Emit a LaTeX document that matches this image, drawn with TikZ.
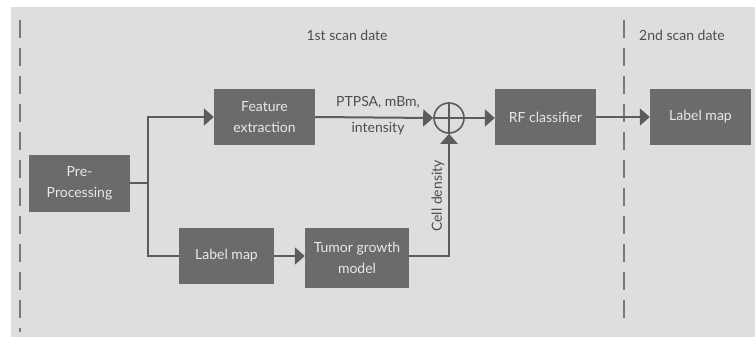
\documentclass[tikz,border=0pt]{standalone}
\usepackage{fontspec}
\setmainfont{Lato}
\usetikzlibrary{arrows.meta}
\definecolor{bggray}{HTML}{DEDEDE}
\definecolor{boxgray}{HTML}{6B6B6B}
\definecolor{boxtext}{HTML}{E8E8E8}
\definecolor{linegray}{HTML}{5C5C5C}
\definecolor{labgray}{HTML}{4E4E4E}
\definecolor{dashgray}{HTML}{7A7A7A}
\begin{document}
\begin{tikzpicture}[x=1pt, y=-1pt,
    block/.style={fill=boxgray, text=boxtext, inner sep=0pt, align=center,
        minimum width=101pt, minimum height=56pt, font=\fontsize{14}{21}\selectfont},
    lab/.style={text=labgray, inner sep=0pt, align=center, font=\fontsize{14}{21}\selectfont},
    wire/.style={draw=linegray, line width=2pt},
    conn/.style={wire, -{Triangle[length=10pt, width=17pt]}},
    sep/.style={draw=dashgray, line width=1.6pt, dash pattern=on 18pt off 10pt}]
    \useasboundingbox (0,0) rectangle (755,337) ;
    \fill [bggray] (11,7) rectangle (755,337) ;
    % scan date separators
    \draw [sep] (20,20) -- (20,332) ;
    \draw [sep] (624,20) -- (624,328) ;
    \node [lab] (scan1) at (347,35) {1st scan date} ;
    \node [lab] (scan2) at (682,35) {2nd scan date} ;
    % blocks
    \node [block, minimum height=57pt] (pre) at (79.5,183.5) {Pre-\\Processing} ;
    \node [block] (feat) at (264.5,117) {Feature\\extraction} ;
    \node [block, minimum width=95pt] (lmap) at (226.5,256) {Label map} ;
    \node [block, minimum width=104pt, minimum height=60pt] (tumor) at (357,258) {Tumor growth\\model} ;
    \node [block] (rf) at (545.5,117) {RF classifier} ;
    \node [block] (lmap2) at (700.5,117) {Label map} ;
    \node [circle, draw=linegray, line width=1.6pt, minimum size=30pt, inner sep=0pt] (sum) at (449,118) {} ;
    \draw [linegray, line width=1.6pt] (sum.north) -- (sum.south) (sum.west) -- (sum.east) ;
    % connectors
    \coordinate (split) at (148,183) ;
    \draw [wire] (pre.east |- split) -- (split) ;
    \draw [conn] (split) |- (feat.west) ;
    \draw [wire] (split) |- (lmap.west) ;
    \draw [conn] (lmap.east) -- (tumor.west |- lmap.east) ;
    \draw [conn] (feat.east) -- (sum.west) ;
    \draw [conn] (tumor.east |- lmap.east) -| (sum.south) ;
    \draw [conn] (sum.east) -- (rf.west |- sum.east) ;
    \draw [conn] (rf.east) -- (lmap2.west) ;
    \node [lab, font=\fontsize{14}{26}\selectfont] (feats) at (378,116) {PTPSA, mBm,\\intensity} ;
    \node [lab, rotate=90] (dens) at (438,196) {Cell density} ;
\end{tikzpicture}
\end{document}
